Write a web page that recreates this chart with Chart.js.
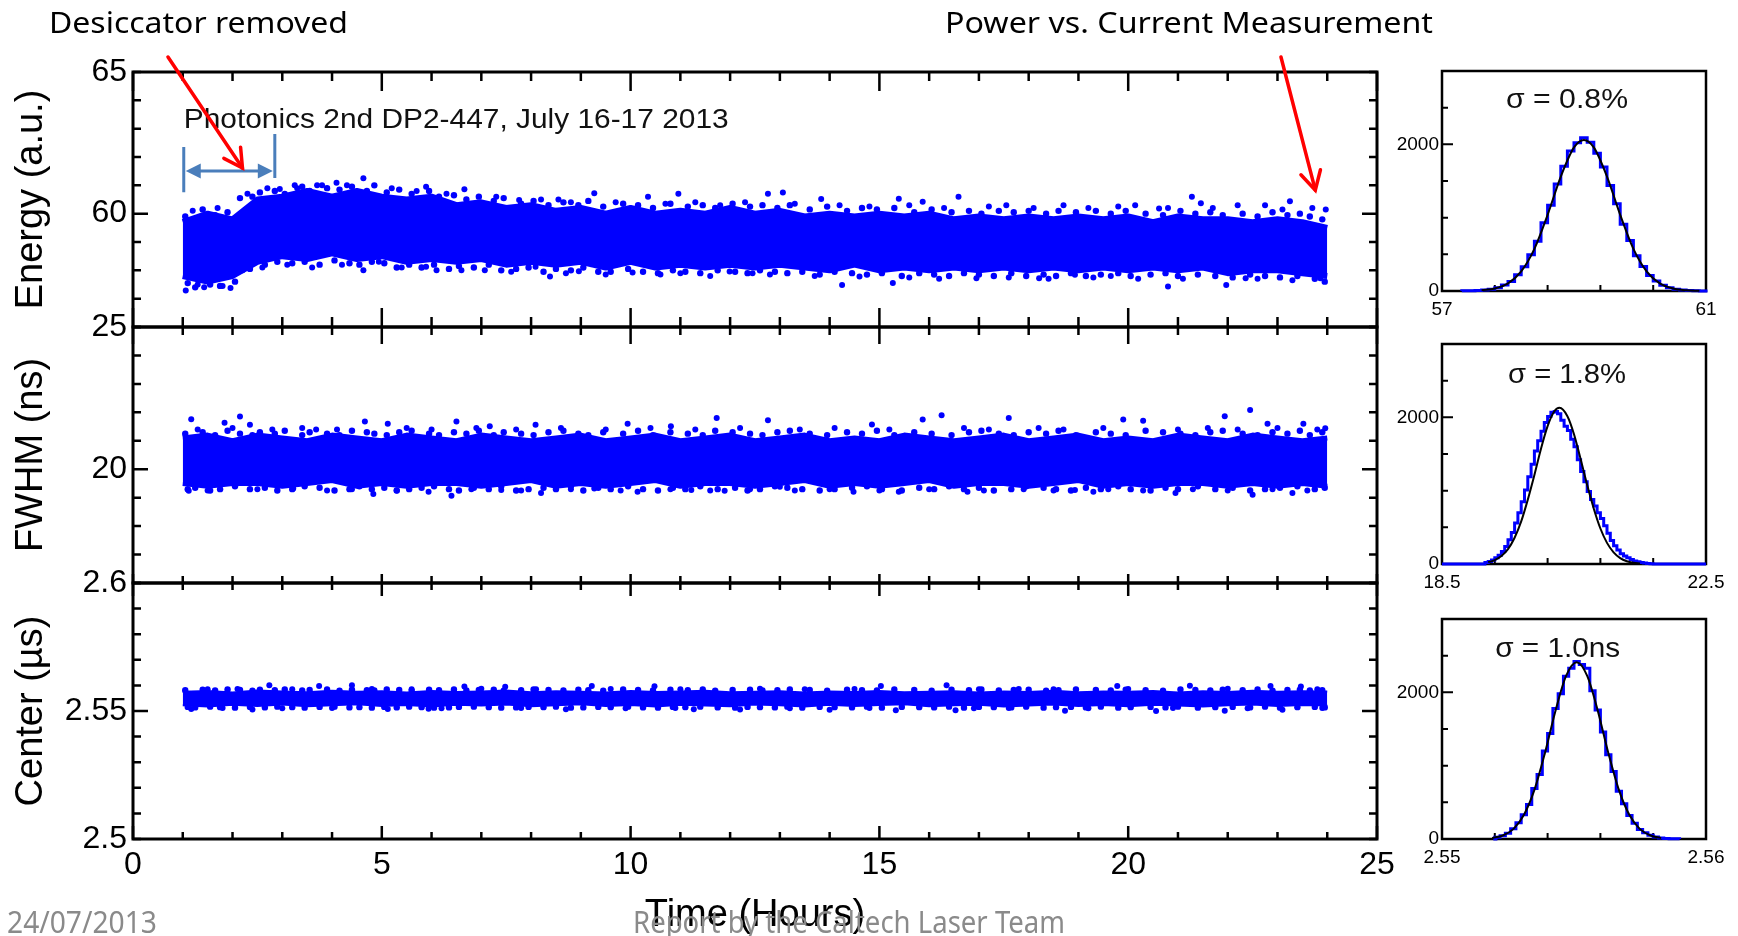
<!DOCTYPE html>
<html><head><meta charset="utf-8">
<script src="https://cdn.jsdelivr.net/npm/chart.js@4.4.1/dist/chart.umd.min.js"></script>
<style>
html,body{margin:0;padding:0;background:#fff;}
#wrap{position:relative;width:1738px;height:936px;overflow:hidden;background:#fff;}
canvas{position:absolute;left:0;top:0;}
</style></head><body>
<div id="wrap">
<canvas id="cE" width="1738" height="936"></canvas>
<canvas id="cF" width="1738" height="936"></canvas>
<canvas id="cC" width="1738" height="936"></canvas>
<canvas id="h1" width="1738" height="936"></canvas>
<canvas id="h2" width="1738" height="936"></canvas>
<canvas id="h3" width="1738" height="936"></canvas>
<canvas id="cT" width="1738" height="936"></canvas>
</div>
<script>
// ---------------- DATA ----------------
const hours = [1,1.5,2,2.5,3,3.5,4,4.5,5,5.5,6,6.5,7,7.5,8,8.5,9,9.5,10,10.5,11,11.5,12,12.5,13,13.5,14,14.5,15,15.5,16,16.5,17,17.5,18,18.5,19,19.5,20,20.5,21,21.5,22,22.5,23,23.5,24];
// time stamps of points sampled along the upper / lower fringe of each band
const fringeHighT = [1.05,1.4,1.65,1.9,2.15,2.4,2.55,2.85,3.05,3.4,3.55,3.9,4.15,4.4,4.7,4.85,5.1,5.35,5.6,5.95,6.15,6.45,6.7,6.95,7.25,7.45,7.8,8.05,8.35,8.65,8.95,9.15,9.45,9.85,10.15,10.45,10.8,11.15,11.45,11.7,12.05,12.4,12.65,12.95,13.2,13.6,13.95,14.35,14.65,14.95,15.3,15.7,16.05,16.45,16.8,17.05,17.4,17.7,18.0,18.35,18.6,18.95,19.35,19.65,19.95,20.35,20.7,21.05,21.35,21.65,21.9,22.3,22.6,22.9,23.2,23.45,23.65,23.9];
const fringeLowT = [1.1,1.25,1.55,1.75,2.05,2.35,2.65,2.9,3.2,3.45,3.75,4.05,4.35,4.55,4.8,5.05,5.3,5.55,5.8,6.05,6.35,6.55,6.85,7.15,7.4,7.7,7.95,8.25,8.5,8.8,9.05,9.35,9.6,9.95,10.25,10.55,10.85,11.1,11.4,11.75,12.1,12.35,12.6,12.9,13.15,13.45,13.8,14.1,14.45,14.75,15.05,15.45,15.8,16.1,16.4,16.7,17.0,17.3,17.65,17.95,18.3,18.55,18.85,19.15,19.45,19.8,20.05,20.45,20.75,21.0,21.4,21.75,22.1,22.45,22.75,23.05,23.4,23.75,23.95];

// Energy (a.u.)
const energyUpper = [59.7,60.0,59.8,60.5,60.6,60.8,60.6,60.8,60.6,60.5,60.6,60.3,60.4,60.2,60.3,60.1,60.2,60.0,60.2,60.0,60.1,60.0,60.2,60.0,60.1,59.9,60.0,59.9,60.0,59.9,60.0,59.8,59.9,59.8,59.9,59.8,59.9,59.8,59.9,59.7,59.9,59.8,59.8,59.7,59.8,59.7,59.5];
const energyLower = [57.8,57.6,57.8,58.3,58.5,58.4,58.6,58.4,58.5,58.3,58.4,58.3,58.4,58.2,58.3,58.2,58.3,58.1,58.3,58.1,58.2,58.1,58.2,58.1,58.2,58.1,58.0,58.2,58.0,58.1,58.0,58.1,58.0,58.1,58.0,58.1,58.0,58.1,58.0,58.1,58.0,58.1,57.9,58.0,58.0,57.9,57.8];
const energyFringeHigh = [59.9,60.15,59.95,60.05,60.55,60.6,60.75,60.8,60.7,60.95,60.8,60.9,60.85,60.95,60.8,61.0,60.75,60.85,60.7,60.8,60.6,60.65,60.5,60.6,60.45,60.55,60.35,60.45,60.3,60.4,60.3,60.45,60.25,60.35,60.3,60.2,60.35,60.25,60.3,60.2,60.35,60.25,60.3,60.2,60.3,60.15,60.25,60.1,60.2,60.15,60.2,60.05,60.15,60.05,60.1,60.0,60.1,60.05,60.1,60.0,60.1,60.05,60.1,60.0,60.1,60.0,59.95,60.1,60.0,60.05,59.95,60.0,59.9,60.05,59.95,60.0,59.9,59.8];
const energyFringeLow = [57.55,57.4,57.5,57.45,57.6,58.05,58.2,58.3,58.25,58.3,58.2,58.35,58.25,58.2,58.3,58.25,58.1,58.2,58.1,58.2,58.05,58.15,58.1,58.2,58.0,58.05,58.1,57.95,58.05,58.0,58.1,57.95,57.95,58.05,57.95,57.9,58.0,57.95,57.9,58.0,57.95,57.9,58.0,57.95,57.9,57.95,57.85,57.95,57.9,57.85,57.9,57.8,57.9,57.85,57.8,57.9,57.85,57.8,57.9,57.8,57.85,57.8,57.9,57.8,57.85,57.9,57.8,57.85,57.9,57.8,57.85,57.8,57.75,57.85,57.8,57.75,57.8,57.7,57.6];
const energyHighT = [1.2,1.7,2.3,2.7,2.95,3.25,3.3,3.7,3.8,4.09,4.3,4.63,5.2,5.7,5.89,6.3,6.66,7.3,7.76,8.2,8.55,8.8,9.27,9.7,10.35,10.7,10.96,11.3,11.8,12.3,12.76,13.06,13.3,13.83,14.2,14.8,15.39,15.6,15.87,16.3,16.59,17.2,17.55,18.1,18.7,19.2,19.8,20.14,20.62,20.8,21.28,21.46,21.7,22.2,22.75,23.1,23.25,23.7,23.97];
const energyHighE = [60.1,60.2,60.7,60.9,60.87,61.0,60.9,61.0,61.0,61.09,61.0,61.25,60.9,60.8,60.95,60.7,60.86,60.6,60.48,60.5,60.5,60.4,60.72,60.4,60.6,60.35,60.7,60.4,60.3,60.4,60.7,60.75,60.35,60.52,60.3,60.25,60.53,60.3,60.42,60.2,60.6,60.25,60.3,60.2,60.3,60.2,60.25,60.3,60.18,60.2,60.6,60.37,60.2,60.3,60.3,60.15,60.44,60.2,60.15];
const energyLowT = [1.06,1.3,1.43,1.8,1.96,2.2,2.6,3.1,3.6,4.2,4.63,4.94,5.4,5.89,6.1,6.6,7.07,7.6,8.09,8.38,8.7,8.96,9.5,10.04,10.6,11.0,11.6,11.99,12.45,12.8,13.7,14.25,14.6,15.27,15.6,16.2,16.95,17.6,18.21,18.4,18.93,19.3,19.65,20.2,20.8,21.1,21.97,22.36,22.6,23.3,23.86];
const energyLowE = [57.29,57.5,57.4,57.45,57.38,58.0,58.1,58.2,58.1,58.2,58.0,58.3,58.1,58.13,58.0,58.0,58.0,57.95,58.13,57.78,57.9,57.97,57.85,57.92,57.85,57.9,57.8,57.96,57.9,57.85,57.8,57.48,57.78,57.55,57.75,57.7,57.72,57.75,57.72,57.7,57.84,57.75,57.8,57.7,57.43,57.7,57.48,57.72,57.7,57.65,57.72];

// FWHM (ns)
const fwhmUpper = [21.1,21.2,21.0,21.2,21.1,21.0,21.2,21.1,21.0,21.2,21.1,21.0,21.2,21.1,21.0,21.1,21.2,21.0,21.1,21.2,21.0,21.1,21.2,21.0,21.1,21.2,21.0,21.1,21.0,21.2,21.1,21.0,21.1,21.2,21.0,21.1,21.2,21.0,21.1,21.0,21.2,21.1,21.0,21.2,21.1,21.0,21.1];
const fwhmLower = [19.5,19.4,19.5,19.5,19.4,19.5,19.6,19.4,19.5,19.4,19.5,19.5,19.4,19.5,19.6,19.4,19.5,19.4,19.5,19.6,19.4,19.5,19.5,19.4,19.5,19.6,19.4,19.5,19.4,19.5,19.6,19.4,19.5,19.5,19.4,19.5,19.6,19.4,19.5,19.4,19.5,19.5,19.4,19.5,19.4,19.5,19.4];
const fwhmFringeHigh = [21.25,21.3,21.2,21.35,21.25,21.2,21.3,21.25,21.35,21.2,21.3,21.25,21.2,21.35,21.3,21.25,21.2,21.3,21.35,21.25,21.2,21.3,21.25,21.35,21.2,21.3,21.25,21.2,21.3,21.35,21.25,21.2,21.3,21.25,21.35,21.2,21.3,21.25,21.2,21.35,21.3,21.25,21.2,21.3,21.35,21.25,21.2,21.3,21.25,21.35,21.2,21.3,21.25,21.2,21.3,21.35,21.25,21.2,21.3,21.25,21.35,21.2,21.3,21.25,21.2,21.35,21.3,21.25,21.2,21.3,21.35,21.25,21.2,21.3,21.25,21.35,21.2,21.3];
const fwhmFringeLow = [19.3,19.35,19.25,19.3,19.4,19.3,19.35,19.25,19.3,19.4,19.35,19.25,19.3,19.4,19.3,19.35,19.25,19.3,19.35,19.4,19.3,19.25,19.35,19.3,19.4,19.25,19.3,19.35,19.3,19.4,19.25,19.35,19.3,19.4,19.3,19.25,19.35,19.3,19.4,19.3,19.35,19.25,19.3,19.4,19.35,19.3,19.25,19.3,19.35,19.4,19.3,19.25,19.35,19.3,19.4,19.3,19.35,19.25,19.3,19.4,19.35,19.3,19.25,19.35,19.3,19.4,19.3,19.25,19.35,19.3,19.4,19.3,19.35,19.25,19.3,19.35,19.4,19.3,19.35];
const fwhmHighT = [1.17,1.3,1.84,2.0,2.15,2.35,2.8,3.4,3.68,4.1,4.66,5.12,5.5,6.0,6.5,6.9,7.17,7.7,8.09,8.6,9.5,9.94,10.4,10.81,11.3,11.73,12.2,12.76,13.4,14.1,14.85,15.2,15.87,16.25,16.7,17.2,17.6,18.2,18.7,19.5,19.9,20.3,21.0,21.6,21.94,22.2,22.45,22.8,23.0,23.52,23.8,23.96];
const fwhmHighV = [21.76,21.4,21.63,21.45,21.85,21.56,21.4,21.45,21.4,21.4,21.68,21.6,21.45,21.4,21.68,21.45,21.51,21.4,21.56,21.45,21.4,21.6,21.45,21.51,21.4,21.8,21.45,21.72,21.4,21.45,21.57,21.4,21.75,21.9,21.45,21.4,21.8,21.45,21.4,21.45,21.75,21.7,21.4,21.45,21.86,21.4,22.08,21.6,21.45,21.6,21.4,21.44];
const fwhmLowT = [1.12,1.5,2.5,3.22,3.9,4.4,4.83,5.3,5.94,6.4,6.8,7.4,7.8,8.2,8.8,9.27,9.8,10.14,10.8,11.22,11.6,11.89,12.4,13.0,13.3,14.0,14.48,15.0,15.39,16.0,16.77,17.1,17.9,18.5,18.93,19.3,19.6,20.3,20.95,21.3,22.0,22.5,22.9,23.3,23.6];
const fwhmLowV = [19.24,19.25,19.3,19.32,19.25,19.3,19.13,19.25,19.21,19.07,19.3,19.27,19.25,19.16,19.3,19.32,19.25,19.21,19.3,19.27,19.25,19.24,19.3,19.38,19.25,19.3,19.21,19.25,19.21,19.3,19.21,19.25,19.3,19.25,19.27,19.21,19.3,19.25,19.16,19.3,19.25,19.1,19.3,19.16,19.25];

// Center (µs)
const centerUpper = [2.5575,2.5578,2.5572,2.5580,2.5576,2.5573,2.5579,2.5575,2.5577,2.5572,2.5578,2.5574,2.5576,2.5580,2.5573,2.5577,2.5575,2.5572,2.5578,2.5574,2.5576,2.5579,2.5573,2.5575,2.5577,2.5572,2.5576,2.5574,2.5578,2.5573,2.5575,2.5577,2.5572,2.5576,2.5574,2.5579,2.5573,2.5576,2.5575,2.5578,2.5572,2.5577,2.5574,2.5579,2.5575,2.5577,2.5576];
const centerLower = [2.5522,2.5518,2.5524,2.5520,2.5525,2.5519,2.5522,2.5526,2.5520,2.5523,2.5518,2.5524,2.5521,2.5525,2.5519,2.5522,2.5526,2.5520,2.5523,2.5518,2.5524,2.5521,2.5519,2.5525,2.5522,2.5518,2.5524,2.5520,2.5523,2.5526,2.5519,2.5522,2.5524,2.5518,2.5521,2.5525,2.5520,2.5523,2.5519,2.5524,2.5521,2.5518,2.5522,2.5525,2.5520,2.5523,2.5521];
const centerFringeHigh = [2.5581,2.5583,2.5580,2.5584,2.5582,2.5579,2.5583,2.5581,2.5584,2.5580,2.5582,2.5584,2.5579,2.5583,2.5581,2.5580,2.5584,2.5582,2.5579,2.5583,2.5581,2.5584,2.5580,2.5582,2.5583,2.5579,2.5581,2.5584,2.5582,2.5580,2.5583,2.5581,2.5579,2.5584,2.5582,2.5580,2.5583,2.5581,2.5584,2.5579,2.5582,2.5583,2.5580,2.5581,2.5584,2.5582,2.5579,2.5583,2.5581,2.5580,2.5584,2.5582,2.5579,2.5583,2.5581,2.5584,2.5580,2.5582,2.5583,2.5579,2.5581,2.5584,2.5582,2.5580,2.5583,2.5581,2.5579,2.5584,2.5582,2.5580,2.5583,2.5581,2.5584,2.5579,2.5582,2.5583,2.5580,2.5581];
const centerFringeLow = [2.5516,2.5514,2.5517,2.5515,2.5513,2.5516,2.5514,2.5517,2.5515,2.5513,2.5516,2.5517,2.5514,2.5515,2.5513,2.5516,2.5514,2.5517,2.5515,2.5513,2.5514,2.5516,2.5517,2.5515,2.5513,2.5514,2.5516,2.5515,2.5517,2.5513,2.5514,2.5516,2.5515,2.5517,2.5514,2.5513,2.5516,2.5515,2.5517,2.5514,2.5513,2.5516,2.5515,2.5514,2.5517,2.5513,2.5516,2.5515,2.5514,2.5517,2.5513,2.5516,2.5515,2.5514,2.5517,2.5513,2.5516,2.5515,2.5514,2.5517,2.5513,2.5515,2.5516,2.5514,2.5517,2.5513,2.5515,2.5516,2.5514,2.5517,2.5513,2.5515,2.5516,2.5514,2.5517,2.5513,2.5515,2.5516,2.5514];
const centerHighT = [1.5,2.1,2.74,3.2,3.74,4.4,4.8,5.6,6.66,7.0,7.48,8.1,9.22,9.6,10.48,11.0,12.6,13.5,14.5,15.03,16.35,17.0,17.8,18.5,19.78,20.0,21.24,22.0,22.86,23.47,23.8];
const centerHighV = [2.5585,2.5586,2.5601,2.5585,2.5598,2.5601,2.5586,2.5585,2.5596,2.5587,2.5595,2.5585,2.5598,2.5586,2.5597,2.5585,2.5587,2.5585,2.5586,2.5598,2.5601,2.5585,2.5586,2.5585,2.5598,2.5586,2.5599,2.5587,2.5598,2.5596,2.5585];
const centerLowT = [1.17,1.8,2.4,3.0,4.0,5.12,5.94,6.2,7.8,8.7,9.9,10.9,11.27,12.2,13.2,14.0,14.8,15.33,16.53,16.9,17.6,18.73,19.2,20.56,20.9,21.94,22.4,23.1,23.9];
const centerLowV = [2.5508,2.5512,2.5506,2.5511,2.5512,2.5508,2.5509,2.5511,2.5512,2.5507,2.5511,2.5512,2.5507,2.5506,2.5511,2.5505,2.5512,2.5503,2.5503,2.5511,2.5512,2.5501,2.5511,2.55,2.5512,2.5501,2.5511,2.5505,2.5512];

// histograms (bin start, bin width, counts) and fitted curves
const histEnergyStart = 57.3, histEnergyWidth = 0.1;
const histEnergyCounts = [2,3,6,12,24,44,82,131,220,330,495,680,930,1170,1460,1700,1910,2020,2090,2030,1880,1690,1440,1190,910,690,480,335,212,136,78,46,25,14,7,3,1];
const fitEnergyX = [57.6,57.8,58.0,58.2,58.4,58.6,58.8,59.0,59.15,59.3,59.5,59.7,59.9,60.1,60.3,60.5,60.7,60.9];
const fitEnergyY = [9,34,103,268,575,1038,1561,1958,2060,1958,1561,1038,575,268,103,34,9,2];

const histFwhmStart = 19.15, histFwhmWidth = 0.05;
const histFwhmCounts = [20,35,55,85,120,170,240,330,430,560,700,850,1010,1190,1360,1540,1680,1810,1930,2010,2070,2080,2050,1960,1880,1820,1700,1600,1420,1260,1120,990,880,790,700,620,520,420,320,250,190,140,110,85,60,42,30,20,12,6,3];
const fitFwhmX = [19.2,19.3,19.4,19.5,19.6,19.7,19.8,19.9,20.0,20.1,20.2,20.28,20.4,20.5,20.6,20.7,20.8,20.9,21.0,21.1,21.2,21.3,21.4,21.5];
const fitFwhmY = [24,53,108,202,358,581,878,1214,1572,1879,2079,2130,2015,1769,1433,1076,754,484,288,158,80,38,17,7];

const histCenterStart = 2.5520, histCenterWidth = 0.0002;
const histCenterCounts = [25,45,80,140,220,330,470,690,880,1200,1440,1780,1980,2220,2330,2420,2380,2330,2020,1760,1460,1150,920,650,480,320,215,130,85,50,28,15,8,4,2];
const fitCenterX = [2.5519,2.5523,2.5527,2.5531,2.5535,2.5539,2.5543,2.5547,2.5551,2.5555,2.5559,2.5563,2.5567,2.5571,2.5575,2.5579,2.5583];
const fitCenterY = [14,48,135,326,669,1174,1750,2224,2410,2224,1750,1174,669,326,135,48,14];

// ---------------- HELPERS ----------------
const FONT = "'Liberation Sans', Arial, sans-serif";
const BLUE = '#0000ff';
const pairs = (xs, ys) => xs.map((x, i) => ({x: x, y: ys[i]}));
function range(a, b, s) { const n = Math.round((b - a) / s), o = []; for (let i = 0; i <= n; i++) o.push(a + i * s); return o; }
function histPoints(start, width, counts, from, to) {
  const pts = [{x: from, y: 0}, {x: start, y: 0}];
  counts.forEach((c, i) => pts.push({x: start + i * width, y: c}));
  const end = start + counts.length * width;
  pts.push({x: end, y: 0}, {x: to, y: 0});
  return pts;
}
function drawFrame(chart, sets, lw, tlw) {
  const {ctx, chartArea: a} = chart, xs = chart.scales.x, ys = chart.scales.y;
  ctx.save();
  ctx.strokeStyle = '#000';
  ctx.lineWidth = tlw; ctx.beginPath();
  for (const s of sets) {
    const vals = s.values || range(s.start, s.end, s.step);
    for (const v of vals) {
      if (s.axis === 'x') {
        const p = xs.getPixelForValue(v);
        if (s.top) { ctx.moveTo(p, a.top); ctx.lineTo(p, a.top + s.top); }
        if (s.bottom) { ctx.moveTo(p, a.bottom); ctx.lineTo(p, a.bottom - s.bottom); }
      } else {
        const p = ys.getPixelForValue(v);
        if (s.left) { ctx.moveTo(a.left, p); ctx.lineTo(a.left + s.left, p); }
        if (s.right) { ctx.moveTo(a.right, p); ctx.lineTo(a.right - s.right, p); }
      }
    }
  }
  ctx.stroke();
  ctx.lineWidth = lw;
  ctx.strokeRect(a.left, a.top, a.right - a.left, a.bottom - a.top);
  ctx.restore();
}
function fitText(ctx, text, x, base, width, font, color, align) {
  ctx.save(); ctx.font = font; ctx.fillStyle = color; ctx.textBaseline = 'alphabetic';
  const w = ctx.measureText(text).width;
  const left = align === 'center' ? x - width / 2 : x;
  ctx.translate(left, base); ctx.scale(width / w, 1); ctx.fillText(text, 0, 0);
  ctx.restore();
}
function openArrow(ctx, x1, y1, x2, y2, len, ang) {
  const a = Math.atan2(y2 - y1, x2 - x1);
  ctx.beginPath(); ctx.moveTo(x1, y1); ctx.lineTo(x2, y2); ctx.stroke();
  ctx.beginPath();
  ctx.moveTo(x2 - len * Math.cos(a - ang), y2 - len * Math.sin(a - ang));
  ctx.lineTo(x2, y2);
  ctx.lineTo(x2 - len * Math.cos(a + ang), y2 - len * Math.sin(a + ang));
  ctx.stroke();
}
const dots = (data, r) => ({data: data, showLine: false, pointRadius: r, pointBackgroundColor: BLUE, pointBorderColor: BLUE, pointBorderWidth: 0});

// ---------------- MAIN PANELS ----------------
function mainPanel(id, o) {
  return new Chart(document.getElementById(id), {
    type: 'line',
    data: {datasets: [
      dots(pairs(o.highT, o.highV), 3),
      dots(pairs(o.lowT, o.lowV), 3),
      dots(pairs(fringeHighT, o.fHigh), 3.2),
      dots(pairs(fringeLowT, o.fLow), 3.2),
      {data: pairs(hours, o.upper), borderColor: BLUE, borderWidth: o.bw, pointRadius: 0, fill: '+1', backgroundColor: BLUE, tension: 0, borderJoinStyle: 'round'},
      {data: pairs(hours, o.lower), borderColor: BLUE, borderWidth: o.bw, pointRadius: 0, fill: false, tension: 0, borderJoinStyle: 'round'}
    ]},
    options: {
      responsive: false, animation: false, devicePixelRatio: 1,
      layout: {padding: {left: 0, right: 361, top: o.top, bottom: o.padBottom}},
      plugins: {legend: {display: false}, tooltip: {enabled: false}},
      scales: {
        x: {type: 'linear', min: 0, max: 25, display: o.showX,
          grid: {display: false, drawTicks: false}, border: {display: false},
          ticks: {stepSize: 5, autoSkip: false, maxRotation: 0, color: '#000', padding: 7, font: {family: FONT, size: 32}},
          title: {display: o.showX, text: 'Time (Hours)', color: '#000', font: {family: FONT, size: 38}, padding: {top: 0, bottom: -4}},
          afterFit: s => { s.height = o.showX ? 95 : 0; s.paddingLeft = 0; s.paddingRight = 0; }},
        y: {type: 'linear', min: o.ymin, max: o.ymax,
          grid: {display: false, drawTicks: false}, border: {display: false},
          ticks: {stepSize: o.ystep, autoSkip: false, color: '#000', padding: 6, font: {family: FONT, size: 32}, callback: o.ylab},
          title: {display: true, text: o.title, color: '#000', font: {family: FONT, size: 38}, padding: {top: 9, bottom: 0}},
          afterFit: s => { s.width = 133; s.paddingTop = 0; s.paddingBottom = 0; }}
      }
    },
    plugins: [{id: 'frame', afterDatasetsDraw(chart) { drawFrame(chart, o.ticks, 3, 2.5); if (o.extra) o.extra(chart); }}]
  });
}

mainPanel('cE', {
  top: 72, padBottom: 936 - 327, showX: false, ymin: 56, ymax: 65, ystep: 1, bw: 6,
  title: 'Energy (a.u.)',
  ylab: v => (v === 60 || v === 65) ? String(v) : '',
  upper: energyUpper, lower: energyLower, fHigh: energyFringeHigh, fLow: energyFringeLow,
  highT: energyHighT, highV: energyHighE, lowT: energyLowT, lowV: energyLowE,
  ticks: [
    {axis: 'x', start: 0, end: 25, step: 1, top: 9, bottom: 10},
    {axis: 'x', start: 0, end: 25, step: 5, top: 19, bottom: 19},
    {axis: 'y', start: 56, end: 65, step: 1, left: 8, right: 8},
    {axis: 'y', values: [60], left: 15, right: 15}
  ],
  extra(chart) {
    const {ctx} = chart, X = v => chart.scales.x.getPixelForValue(v), Y = v => chart.scales.y.getPixelForValue(v);
    fitText(ctx, 'Photonics 2nd DP2-447, July 16-17 2013', X(1.02), Y(63.01), X(11.97) - X(1.02), '28px ' + FONT, '#111', 'left');
    ctx.save();
    ctx.strokeStyle = '#4a7ebb'; ctx.fillStyle = '#4a7ebb'; ctx.lineWidth = 3;
    ctx.beginPath();
    ctx.moveTo(X(1.02), Y(62.35)); ctx.lineTo(X(1.02), Y(60.76));
    ctx.moveTo(X(2.85), Y(62.81)); ctx.lineTo(X(2.85), Y(61.26));
    const ay = Y(61.51), ax1 = X(1.02) + 2, ax2 = X(2.85) - 2;
    ctx.moveTo(ax1 + 12, ay); ctx.lineTo(ax2 - 12, ay);
    ctx.stroke();
    ctx.beginPath(); ctx.moveTo(ax1, ay); ctx.lineTo(ax1 + 15, ay - 7.5); ctx.lineTo(ax1 + 15, ay + 7.5); ctx.closePath(); ctx.fill();
    ctx.beginPath(); ctx.moveTo(ax2, ay); ctx.lineTo(ax2 - 15, ay - 7.5); ctx.lineTo(ax2 - 15, ay + 7.5); ctx.closePath(); ctx.fill();
    ctx.restore();
    ctx.save();
    ctx.strokeStyle = '#ff0000'; ctx.lineWidth = 3.5; ctx.lineCap = 'round'; ctx.lineJoin = 'miter';
    openArrow(ctx, X(0.703), Y(65.53), X(2.20), Y(61.61), 21, 0.5);
    openArrow(ctx, X(23.07), Y(65.53), X(23.76), Y(60.83), 21, 0.5);
    ctx.restore();
  }
});

mainPanel('cF', {
  top: 327, padBottom: 936 - 583, showX: false, ymin: 16, ymax: 25, ystep: 1, bw: 5,
  title: 'FWHM (ns)',
  ylab: v => (v === 20 || v === 25) ? String(v) : '',
  upper: fwhmUpper, lower: fwhmLower, fHigh: fwhmFringeHigh, fLow: fwhmFringeLow,
  highT: fwhmHighT, highV: fwhmHighV, lowT: fwhmLowT, lowV: fwhmLowV,
  ticks: [
    {axis: 'x', start: 0, end: 25, step: 1, top: 8, bottom: 7},
    {axis: 'x', start: 0, end: 25, step: 5, top: 17, bottom: 9},
    {axis: 'y', start: 16, end: 25, step: 1, left: 8, right: 8},
    {axis: 'y', values: [20], left: 15, right: 15}
  ]
});

mainPanel('cC', {
  top: 583, padBottom: 936 - 839 - 95, showX: true, ymin: 2.5, ymax: 2.6, ystep: 0.01, bw: 2,
  title: 'Center (\u00b5s)',
  ylab: v => (Math.abs(v - 2.5) < 1e-9 || Math.abs(v - 2.55) < 1e-9 || Math.abs(v - 2.6) < 1e-9) ? String(Math.round(v * 100) / 100) : '',
  upper: centerUpper, lower: centerLower, fHigh: centerFringeHigh, fLow: centerFringeLow,
  highT: centerHighT, highV: centerHighV, lowT: centerLowT, lowV: centerLowV,
  ticks: [
    {axis: 'x', start: 0, end: 25, step: 1, top: 7, bottom: 7},
    {axis: 'x', start: 0, end: 25, step: 5, top: 13, bottom: 13},
    {axis: 'y', start: 2.5, end: 2.6, step: 0.01, left: 8, right: 8},
    {axis: 'y', values: [2.55], left: 15, right: 15}
  ]
});

// ---------------- HISTOGRAMS ----------------
function histPanel(id, o) {
  return new Chart(document.getElementById(id), {
    type: 'line',
    data: {datasets: [
      {data: pairs(o.fitX, o.fitY), borderColor: '#000', borderWidth: 2, pointRadius: 0, cubicInterpolationMode: 'monotone', fill: false, clip: 4},
      {data: histPoints(o.start, o.width, o.counts, o.from, o.to), borderColor: BLUE, borderWidth: 3, pointRadius: 0, stepped: 'before', fill: false, clip: 4}
    ]},
    options: {
      responsive: false, animation: false, devicePixelRatio: 1,
      layout: {padding: {left: 1382, right: 32, top: o.top, bottom: 936 - o.bottom - 30}},
      plugins: {legend: {display: false}, tooltip: {enabled: false}},
      scales: {
        x: {type: 'linear', min: o.xmin, max: o.xmax,
          grid: {display: false, drawTicks: false}, border: {display: false},
          ticks: {stepSize: o.xstep, autoSkip: false, maxRotation: 0, color: '#000', padding: 7, font: {family: FONT, size: 19},
            callback: (v, i, t) => (i === 0 || i === t.length - 1) ? o.xlabels[i === 0 ? 0 : 1] : ''},
          afterFit: s => { s.height = 30; s.paddingLeft = 0; s.paddingRight = 0; }},
        y: {type: 'linear', min: 0, max: 3000,
          grid: {display: false, drawTicks: false}, border: {display: false},
          ticks: {stepSize: 500, autoSkip: false, color: '#000', padding: 3, font: {family: FONT, size: 19},
            callback: v => (v === 0 || v === 2000) ? String(v) : ''},
          afterFit: s => { s.width = 60; s.paddingTop = 0; s.paddingBottom = 0; }}
      }
    },
    plugins: [{id: 'hframe',
      beforeDatasetsDraw(chart) {
        drawFrame(chart, [
          {axis: 'x', start: o.xmin, end: o.xmax, step: o.xstep, bottom: 6},
          {axis: 'y', start: 0, end: 3000, step: 500, left: 6},
          {axis: 'y', values: [2000], left: 11}
        ], 2.5, 2);
      },
      afterDatasetsDraw(chart) {
        const X = chart.scales.x.getPixelForValue(o.labX), Y = chart.scales.y.getPixelForValue(o.labY);
        fitText(chart.ctx, o.label, X, Y, o.labW, '27px ' + FONT, '#111', 'center');
      }}]
  });
}

histPanel('h1', {top: 71, bottom: 291, xmin: 57, xmax: 61, xstep: 0.8, xlabels: ['57', '61'],
  start: histEnergyStart, width: histEnergyWidth, counts: histEnergyCounts, from: 57.3, to: 60.95,
  fitX: fitEnergyX, fitY: fitEnergyY, label: '\u03c3 = 0.8%', labX: 58.894, labY: 2495, labW: 122});
histPanel('h2', {top: 344, bottom: 564, xmin: 18.5, xmax: 22.5, xstep: 0.8, xlabels: ['18.5', '22.5'],
  start: histFwhmStart, width: histFwhmWidth, counts: histFwhmCounts, from: 18.5, to: 22.5,
  fitX: fitFwhmX, fitY: fitFwhmY, label: '\u03c3 = 1.8%', labX: 20.394, labY: 2468, labW: 118});
histPanel('h3', {top: 619, bottom: 839, xmin: 2.55, xmax: 2.56, xstep: 0.002, xlabels: ['2.55', '2.56'],
  start: histCenterStart, width: histCenterWidth, counts: histCenterCounts, from: 2.5521, to: 2.5590,
  fitX: fitCenterX, fitY: fitCenterY, label: '\u03c3 = 1.0ns', labX: 2.55438, labY: 2482, labW: 125});

// ---------------- PAGE TEXT ----------------
(function () {
  const ctx = document.getElementById('cT').getContext('2d');
  const F = "'Noto Sans', 'Open Sans', sans-serif";
  fitText(ctx, 'Desiccator removed', 49, 33, 299, '29px ' + F, '#000', 'left');
  fitText(ctx, 'Power vs. Current Measurement', 945, 33, 488, '29px ' + F, '#000', 'left');
  fitText(ctx, '24/07/2013', 7, 933, 150, '30px ' + F, '#8a8a8a', 'left');
  fitText(ctx, 'Report by the Caltech Laser Team', 633, 933, 432, '30px ' + F, '#8a8a8a', 'left');
})();
</script>
</body></html>
